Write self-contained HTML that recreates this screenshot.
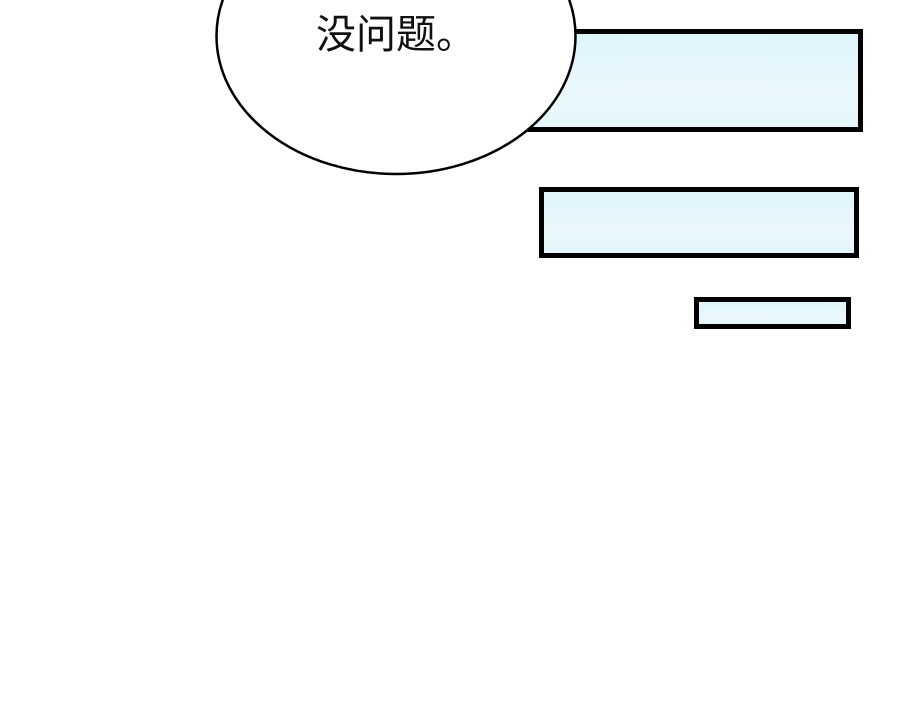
<!DOCTYPE html>
<html><head><meta charset="utf-8"><style>
html,body{margin:0;padding:0;background:#fff;}
body{width:900px;height:703px;position:relative;overflow:hidden;}
.r{position:absolute;box-sizing:border-box;border:5px solid #000;background:linear-gradient(180deg,#def4fb,#eaf8fc 60%,#e4f6fb);}
</style></head><body>
<div class="r" style="left:524px;top:29px;width:339px;height:103px;"></div>
<div class="r" style="left:539px;top:187px;width:320px;height:71px;"></div>
<div class="r" style="left:694px;top:297px;width:157px;height:32px;"></div>
<svg width="900" height="703" style="position:absolute;left:0;top:0">
<ellipse cx="396" cy="36" rx="179.5" ry="138" fill="#fff" stroke="#000" stroke-width="2.5"/>
<text x="396" y="48" text-anchor="middle" font-family="'Noto Sans CJK SC',sans-serif" font-size="40" fill="#111">没问题。</text>
</svg>
</body></html>
